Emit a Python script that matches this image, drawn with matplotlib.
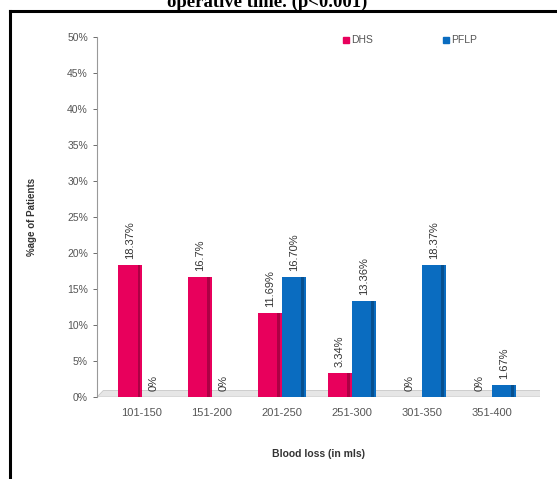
import matplotlib.pyplot as plt
import numpy as np
from matplotlib.patches import Polygon
from matplotlib.lines import Line2D

categorias = ["101-150", "151-200", "201-250", "251-300", "301-350", "351-400"]
dhs = [18.37, 16.7, 11.69, 3.34, 0, 0]
pflp = [0, 0, 16.70, 13.36, 18.37, 1.67]
rot_dhs = ["18.37%", "16.7%", "11.69%", "3.34%", "0%", "0%"]
rot_pflp = ["0%", "0%", "16.70%", "13.36%", "18.37%", "1.67%"]

cor_dhs = "#E8005C"
cor_pflp = "#0A6CC0"

fig = plt.figure(figsize=(5.57, 4.79), dpi=100)
plt.rcParams["font.family"] = ["Liberation Sans", "DejaVu Sans"]

# moldura da figura (recorte do artigo)
fig.add_artist(Line2D([10 / 557, 1], [1 - 11 / 479] * 2, color="black", lw=2.2))
fig.add_artist(Line2D([10 / 557] * 2, [0, 1 - 11 / 479], color="black", lw=2.2))
fig.text(0.48, 1 - 7 / 479, "operative time. (p<0.001)", ha="center", va="baseline",
         fontsize=13.5, fontweight="bold", family=["Liberation Serif", "DejaVu Serif"])

ax = fig.add_axes([97 / 557, 82 / 479, 443 / 557, 360 / 479])
x = np.arange(len(categorias))
w = 0.34

# piso 3D
ax.add_patch(Polygon([(-0.64, 0), (5.69, 0), (5.75, 0.9), (-0.55, 0.9)], closed=True,
                     facecolor="#E6E6E6", edgecolor="#C8C8C8", lw=0.6, zorder=1))

for vals, off, cor, rot in [(dhs, -w / 2, cor_dhs, rot_dhs), (pflp, w / 2, cor_pflp, rot_pflp)]:
    xs = x + off
    ax.bar(xs, vals, width=w, color=cor, edgecolor="none", zorder=2)
    # sombra lateral direita (efeito cilindro)
    ax.bar(xs + w * 0.38, vals, width=w * 0.12, color="black", alpha=0.25, zorder=3)
    for xi, v, t in zip(xs, vals, rot):
        ax.text(xi, v + 0.8, t, rotation=90, ha="center", va="bottom",
                fontsize=8, color="#333333", zorder=4)

ax.set_xlim(-0.64, 5.69)
ax.set_ylim(0, 50)
ax.set_yticks(np.arange(0, 51, 5))
ax.set_yticklabels([f"{v}%" for v in range(0, 51, 5)])
ax.set_xticks(x)
ax.set_xticklabels(categorias)
ax.tick_params(axis="y", labelsize=7.5, colors="#555555", length=3, width=0.6)
ax.tick_params(axis="x", labelsize=8, colors="#555555", length=0, pad=8)
for s in ["top", "right", "bottom"]:
    ax.spines[s].set_visible(False)
ax.spines["left"].set_color("#999999")
ax.spines["left"].set_linewidth(0.8)

ax.set_ylabel("%age of Patients", fontsize=7, fontweight="bold", color="#333333", labelpad=22)
ax.set_xlabel("Blood loss (in mls)", fontsize=7.5, fontweight="bold", color="#333333", labelpad=22)

# legenda
fig.patches.append(plt.Rectangle((343 / 557, 1 - 43 / 479), 6 / 557, 6 / 479,
                                 transform=fig.transFigure, color=cor_dhs))
fig.text(351 / 557, 1 - 40 / 479, "DHS", fontsize=7.5, color="#555555", va="center")
fig.patches.append(plt.Rectangle((443 / 557, 1 - 43 / 479), 6 / 557, 6 / 479,
                                 transform=fig.transFigure, color=cor_pflp))
fig.text(451 / 557, 1 - 40 / 479, "PFLP", fontsize=7.5, color="#555555", va="center")

plt.savefig("out.png", dpi=100)
plt.close()
